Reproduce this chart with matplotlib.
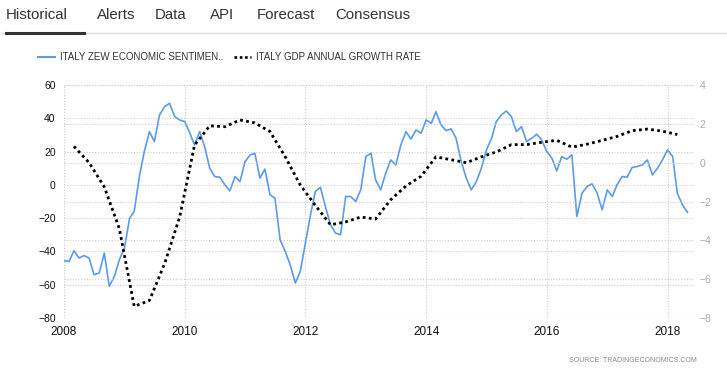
import numpy as np
import pandas as pd
import matplotlib
matplotlib.use('Agg')
import matplotlib.pyplot as plt
from datetime import datetime

# ZEW economic sentiment (monthly, from Jan 2008)
zew = [-45.6, -46, -39.6, -44, -42.5, -44, -54, -53, -41, -61, -55, -45,
       -38, -20, -16, 5, 20, 32, 26, 42, 47, 49, 41, 39,
       38, 31, 24, 32, 23, 10, 5, 4.6, 0, -3.6, 5, 2,
       14, 18, 19, 4, 9.5, -6, -8, -33, -40, -48, -59, -52,
       -35, -18, -4, -1.5, -13, -24, -29, -30, -7, -7, -10, -3,
       17, 19, 3, -3, 7, 15, 12, 24, 32, 27.5, 33, 31,
       39, 37, 44, 36, 32.6, 33.6, 28, 14, 4, -3, 2, 10,
       21, 28, 38, 42, 44.4, 41, 32, 35, 26, 28, 30.4, 27,
       20, 16, 8.4, 17, 15.4, 18, -19, -5, -1, 0.6, -5, -15,
       -3, -7, 0, 5, 4.6, 10.5, 11, 12, 15, 6, 10, 15,
       21, 17, -5, -12, -16.5]
zew_start = '2008-01-01'

# GDP annual growth rate (quarterly, Q1 2008 .. Q1 2018)
gdp = [0.84, 0.0, -1.25, -3.4,
       -7.4, -7.1, -5.2, -2.8,
       0.9, 1.9, 1.85, 2.2,
       2.05, 1.6, 0.3, -1.15,
       -2.2, -3.2, -3.05, -2.8,
       -2.9, -1.9, -1.2, -0.7,
       0.3, 0.15, 0.0, 0.3,
       0.55, 0.93, 0.93, 1.05,
       1.15, 0.8, 0.95, 1.15,
       1.35, 1.65, 1.73, 1.62,
       1.45]
gdp_start = '2008-03-01'

tabs = ['Historical', 'Alerts', 'Data', 'API', 'Forecast', 'Consensus']
years = [2008, 2010, 2012, 2014, 2016, 2018]
left_ticks = [60, 40, 20, 0, -20, -40, -60, -80]
right_ticks = [4, 2, 0, -2, -4, -6, -8]

zew_dates = pd.date_range(zew_start, periods=len(zew), freq='MS')
gdp_dates = pd.date_range(gdp_start, periods=len(gdp), freq='3MS')

W, H = 727, 373
fig = plt.figure(figsize=(W/100, H/100), dpi=100)
fig.patch.set_facecolor('white')

# tabs
tab_x = [6, 97, 155, 210, 257, 335]
for t, x in zip(tabs, tab_x):
    fig.text(x/W, 1 - 15/H, t, fontsize=10.8, color='#333333', va='center', ha='left',
             family=['Liberation Sans', 'DejaVu Sans'])
fig.add_artist(plt.Line2D([0, 1], [1 - 33/H, 1 - 33/H], color='#e0e0e0', lw=1))
fig.add_artist(plt.Line2D([6/W, 84/W], [1 - 33/H, 1 - 33/H], color='#333333', lw=2.2))

# legend
ly = 1 - 57/H
fig.add_artist(plt.Line2D([38/W, 55/W], [ly, ly], color='#5b9bea', lw=1.5))
fig.text(60/W, ly, 'ITALY ZEW ECONOMIC SENTIMEN..', fontsize=7, color='#333333',
         va='center', family=['Liberation Sans', 'DejaVu Sans'])
fig.add_artist(plt.Line2D([234/W, 251/W], [ly, ly], color='black', lw=1.9,
                          linestyle=(0, (1, 1))))
fig.text(256/W, ly, 'ITALY GDP ANNUAL GROWTH RATE', fontsize=7, color='#333333',
         va='center', family=['Liberation Sans', 'DejaVu Sans'])

# main axes
ax = fig.add_axes([64/W, 1 - 318/H, (694 - 64)/W, (318 - 85)/H])
ax2 = ax.twinx()

ax.plot(zew_dates, zew, color='#5b9bea', lw=1.2, zorder=3)
ax2.plot(gdp_dates, gdp, color='black', lw=2.0, linestyle=(0, (1, 1.2)), zorder=3)

ax.set_xlim(datetime(2008, 1, 1), datetime(2018, 6, 10))
ax.set_ylim(-80, 60)
ax2.set_ylim(-8, 4)
ax.set_yticks(left_ticks)
ax2.set_yticks(right_ticks)
ax.set_xticks([datetime(y, 1, 1) for y in years])
ax.set_xticklabels([str(y) for y in years])

grid_kw = dict(color='#cccccc', lw=0.8, linestyle=(0, (1, 1.5)))
ax.grid(True, **grid_kw)
ax2.grid(True, axis='y', **grid_kw)

for a in (ax, ax2):
    for s in a.spines.values():
        s.set_visible(False)
ax.tick_params(axis='y', length=0, pad=6, labelsize=7.5, labelcolor='#111111')
ax2.tick_params(axis='y', length=0, pad=4, labelsize=7.5, labelcolor='#aaaaaa')
ax.tick_params(axis='x', length=0, pad=6, labelsize=8.5, labelcolor='#111111')
for lab in ax.get_yticklabels() + ax2.get_yticklabels() + ax.get_xticklabels():
    lab.set_family(['Liberation Sans', 'DejaVu Sans'])

fig.text(697/W, 1 - 360/H, 'SOURCE: TRADINGECONOMICS.COM', fontsize=5.0, color='#888888',
         ha='right', va='center', family=['Liberation Sans', 'DejaVu Sans'])

plt.savefig('out.png', dpi=100)
